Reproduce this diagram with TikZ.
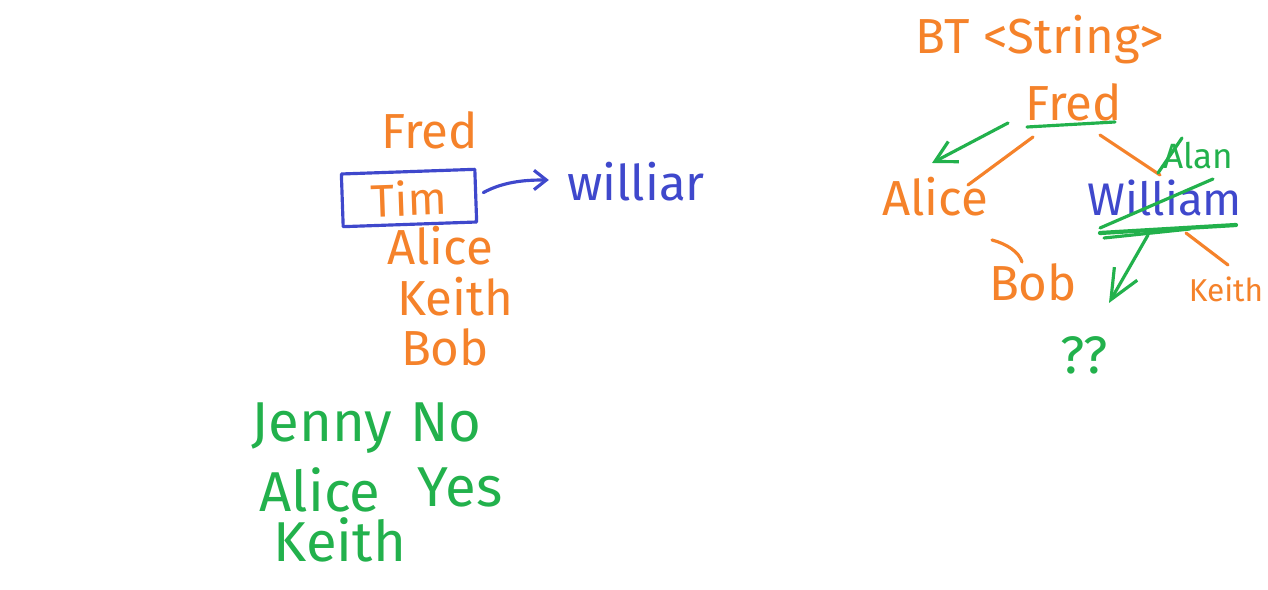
\documentclass[tikz,border=0pt]{standalone}
\usepackage{fontspec}
\setmainfont{Fira Sans}
\usetikzlibrary{arrows.meta,calc}
\definecolor{hor}{HTML}{F5822A}
\definecolor{hbl}{HTML}{3F48CC}
\definecolor{hgr}{HTML}{22B14C}
\begin{document}
\begin{tikzpicture}[x=0.02cm,y=-0.02cm,
  pen/.style={line width=1.8pt, line cap=round, line join=round},
  ot/.style={text=hor, inner sep=0pt, font=\fontsize{#1}{#1}\selectfont},
  bt/.style={text=hbl, inner sep=0pt, font=\fontsize{#1}{#1}\selectfont},
  gt/.style={text=hgr, inner sep=0pt, font=\fontsize{#1}{#1}\selectfont}]
\useasboundingbox (0,0) rectangle (1268,590);
\fill[white] (0,0) rectangle (1268,590);

% ---------- left: list ----------
\node[ot=28] (fredL) at (430,130) {Fred};
\node[ot=26, draw=hbl, pen, minimum width=76pt, minimum height=30pt, rotate=2] (tim) at (409,198) {Tim};
\node[bt=28] (williarL) at (636,182) {williar};
\node[ot=28] (aliceL) at (440,246) {Alice};
\node[ot=28] (keithL) at (455,297) {Keith};
\node[ot=28] (bobL) at (445,347) {Bob};
\draw[pen, hbl, -{Straight Barb[length=7pt,width=11pt,line width=1.8pt]}]
  ($(tim.east)+(6,-3)$) .. controls +(22,-12) and +(-20,0) .. ($(williarL.west)+(-18,-2)$);

% ---------- left: green answers ----------
\node[gt=32] (jenny) at (322,428) {Jenny};
\node[gt=32] (no) at (446,422) {No};
\node[gt=32] (aliceG) at (320,490) {Alice};
\node[gt=32] (yes) at (460,487) {Yes};
\node[gt=32] (keithG) at (340,540) {Keith};

% ---------- right: tree ----------
\node[ot=28] (btS) at (1040,40) {BT <String>};
\node[ot=28] (fredR) at (1074,102) {Fred};
\node[ot=28] (aliceR) at (935,197) {Alice};
\node[ot=28] (bobR) at (1033,282) {Bob};
\node[bt=26] (williamR) at (1165,198) {William};
\node[gt=20] (alan) at (1198,156) {Alan};
\node[ot=18] (keithR) at (1226,289) {Keith};
\node[gt=30] (qq) at (1084,355) {??};

% underline of Fred
\draw[pen, hgr] ($(fredR)+(-47,25)$) -- ($(fredR)+(41,20)$);
% edges
\draw[pen, hor] ($(fredR)+(-41,35)$) -- ($(aliceR)+(33,-12)$);
\draw[pen, hor] ($(fredR)+(26,33)$) -- ($(williamR)+(-5,-23)$);
\draw[pen, hor] ($(aliceR)+(57,43)$) .. controls +(15,4) and +(-3,-10) .. ($(bobR)+(-11,-20)$);
\draw[pen, hor] ($(williamR)+(21,35)$) -- ($(keithR)+(2,-24)$);
% green arrow to Alice
\draw[pen, hgr, -{Straight Barb[length=12pt,width=13pt,line width=1.8pt]}]
  ($(fredR)+(-66,21)$) -- ($(aliceR)+(-3,-34)$);
% Alan stroke, strike-through and underline of William
\draw[pen, hgr] ($(williamR)+(-7,-25)$) -- ($(alan)+(-16,-18)$);
\draw[pen, hgr] ($(williamR)+(-65,30)$) -- ($(williamR)+(48,-19)$);
\draw[pen, hgr, line width=2.4pt] ($(williamR)+(-65,35)$) -- ($(williamR)+(71,27)$);
\draw[pen, hgr] ($(williamR)+(-61,40)$) -- ($(williamR)+(25,31)$);
% green arrow to the empty child
\coordinate (emptyC) at (1109,303);
\draw[pen, hgr, -{Straight Barb[length=17pt,width=15pt,line width=1.8pt]}]
  ($(williamR)+(-17,37)$) -- (emptyC);
\end{tikzpicture}
\end{document}
